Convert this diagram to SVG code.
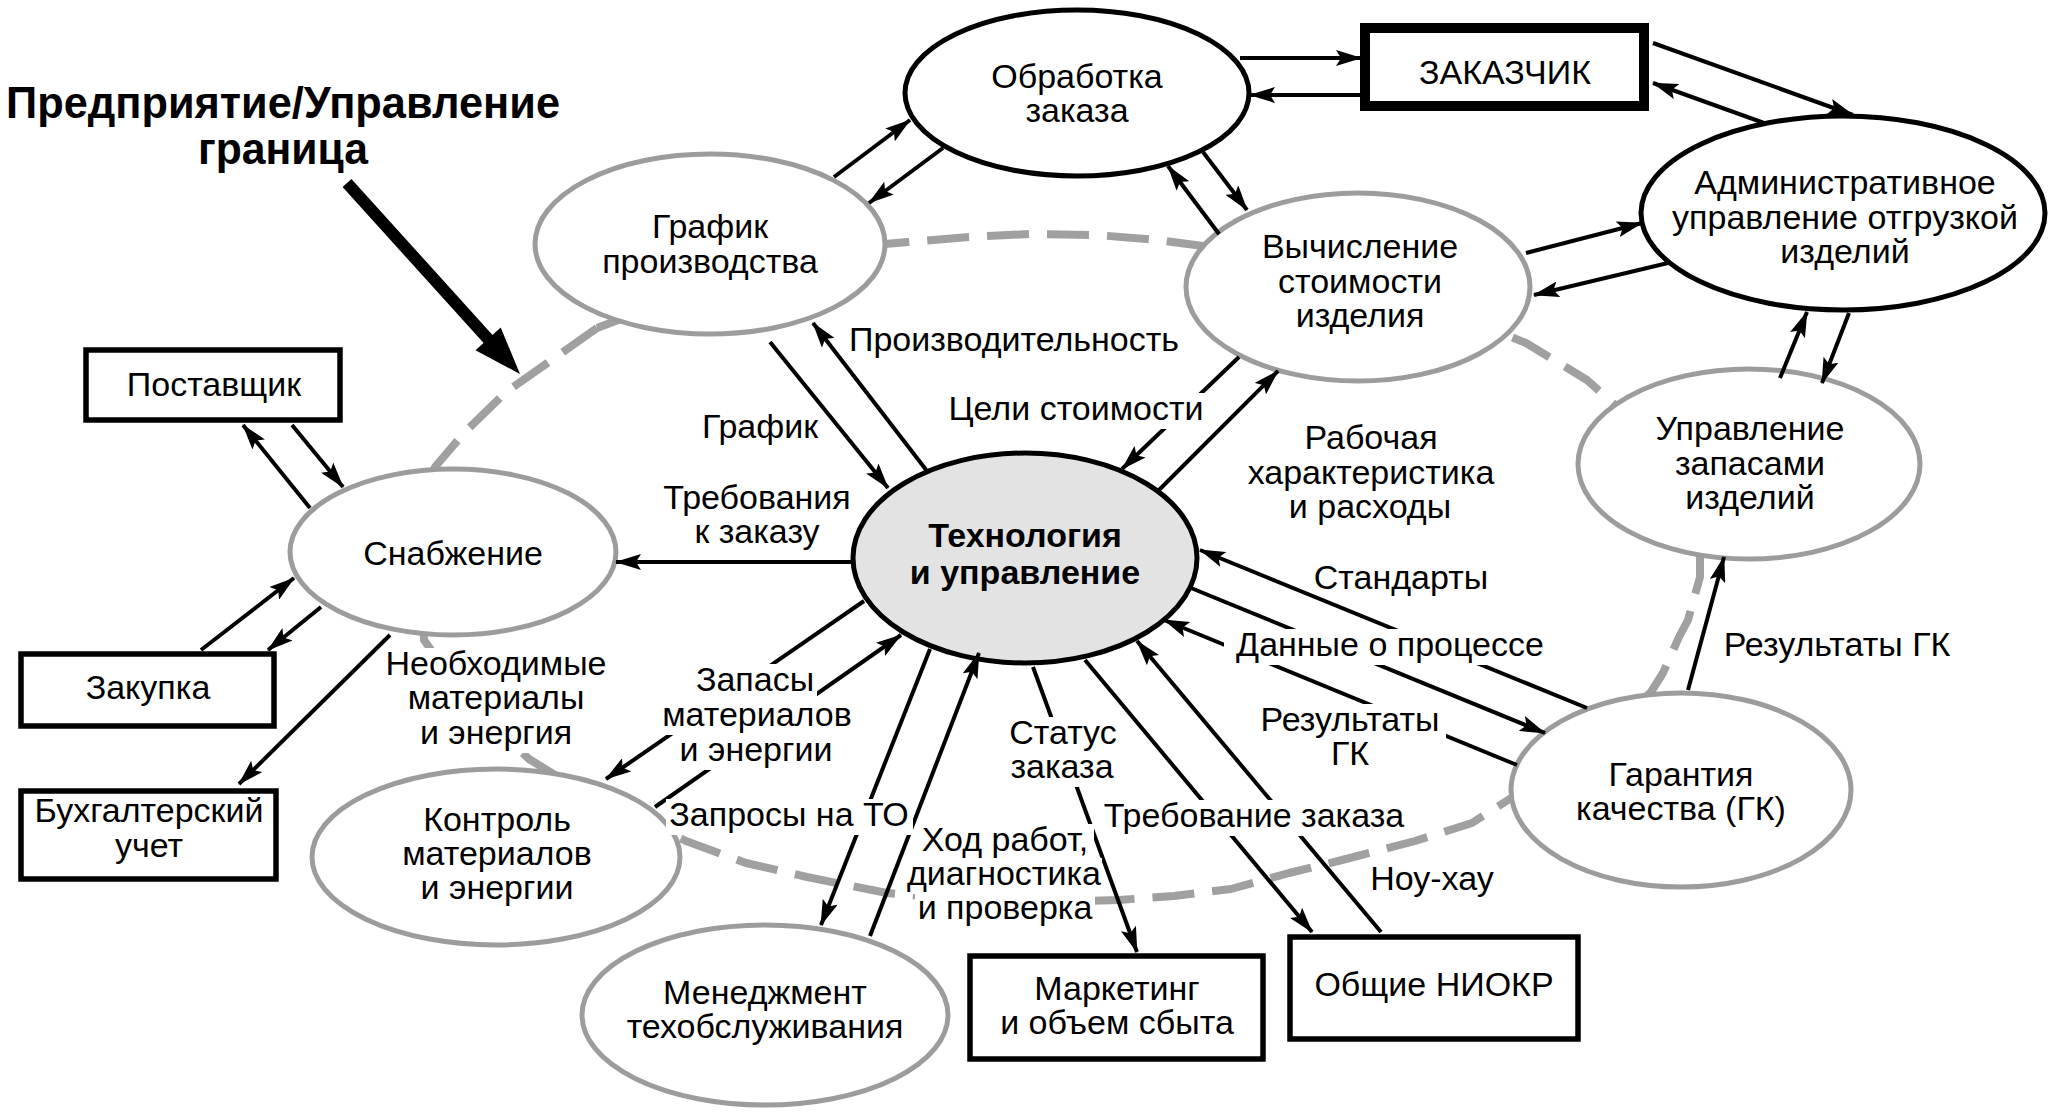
<svg xmlns="http://www.w3.org/2000/svg" width="2055" height="1115" viewBox="0 0 2055 1115">
<defs>
<marker id="ah" markerUnits="userSpaceOnUse" viewBox="0 0 26 16" markerWidth="26" markerHeight="16" refX="25" refY="8" orient="auto"><path d="M0,0 L26,8 L0,16 L5,8 Z" fill="#000"/></marker>
<style>
text{font-family:"Liberation Sans",Arial,sans-serif;font-size:34px;fill:#000;text-anchor:middle}
.t{font-weight:bold;font-size:45px}
.b{font-weight:bold}
.eb{fill:#fff;stroke:#000;stroke-width:5}
.eg{fill:#fff;stroke:#9c9c9c;stroke-width:5}
.bx{fill:#fff;stroke:#000;stroke-width:5.5}
.c line{stroke:#000;stroke-width:4;marker-end:url(#ah)}
.lb rect{fill:#fff}
</style>
</defs>
<rect width="2055" height="1115" fill="#fff"/>
<g id="boundary">
<polyline fill="none" stroke="#a0a0a0" stroke-width="8" stroke-dasharray="42 18" stroke-linejoin="round" points="597,328 556,357 506,392 464,433 435,467 420,550 424,640 470,705 529,759 560,778 686,841 746,863 807,877 887,893 1000,903 1119,900 1174,896 1231,889 1289,873 1346,859 1415,841 1472,823 1508,800 1600,740 1651,692 1663,673 1679,637 1688,620 1700,577 1700,557 1680,470 1615,405 1587,380 1526,343 1420,300 1203,246 1158,240 1096,235 1030,234 969,237 908,242 885,244 750,270 597,328"/>
</g>
<g id="title">
<text class="t" x="283" y="118" textLength="554" lengthAdjust="spacingAndGlyphs">Предприятие/Управление</text>
<text class="t" x="283" y="164" textLength="170" lengthAdjust="spacingAndGlyphs">граница</text>
<line x1="347" y1="183" x2="489" y2="340" stroke="#000" stroke-width="12"/>
<polygon points="520,374 475.5,350.3 500.7,327.5" fill="#000"/>
</g>
<g id="n-obrabotka"><ellipse class="eb" cx="1077" cy="93" rx="172" ry="83"/><text x="1077" y="88">Обработка</text><text x="1077" y="122">заказа</text></g>
<g id="n-zakazchik"><rect x="1365" y="28" width="279" height="78" fill="#fff" stroke="#000" stroke-width="10"/><text x="1505" y="84">ЗАКАЗЧИК</text></g>
<g id="n-admin"><ellipse class="eb" cx="1843" cy="213" rx="202" ry="97"/><text x="1845" y="194">Административное</text><text x="1845" y="229">управление отгрузкой</text><text x="1845" y="263">изделий</text></g>
<g id="n-grafik"><ellipse class="eg" cx="710" cy="244" rx="175" ry="90"/><text x="710" y="238">График</text><text x="710" y="273">производства</text></g>
<g id="n-vychislenie"><ellipse class="eg" cx="1358" cy="287" rx="172" ry="94"/><text x="1360" y="258">Вычисление</text><text x="1360" y="293">стоимости</text><text x="1360" y="327">изделия</text></g>
<g id="n-zapasy"><ellipse class="eg" cx="1749" cy="464" rx="171" ry="95"/><text x="1750" y="440">Управление</text><text x="1750" y="475">запасами</text><text x="1750" y="509">изделий</text></g>
<g id="n-postavshik"><rect class="bx" x="86" y="350" width="254" height="70"/><text x="214" y="396">Поставщик</text></g>
<g id="n-snabzhenie"><ellipse class="eg" cx="453" cy="552" rx="163" ry="83"/><text x="453" y="565">Снабжение</text></g>
<g id="n-tekhnologia"><ellipse cx="1025" cy="558" rx="172" ry="105" fill="#e3e3e3" stroke="#000" stroke-width="5"/><text class="b" x="1025" y="547">Технология</text><text class="b" x="1025" y="584">и управление</text></g>
<g id="n-zakupka"><rect class="bx" x="21" y="654" width="253" height="72"/><text x="148" y="699">Закупка</text></g>
<g id="n-bukh"><rect class="bx" x="21" y="791" width="255" height="88"/><text x="149" y="822">Бухгалтерский</text><text x="149" y="857">учет</text></g>
<g id="n-kontrol"><ellipse class="eg" cx="496" cy="857" rx="184" ry="88"/><text x="497" y="831">Контроль</text><text x="497" y="865">материалов</text><text x="497" y="899">и энергии</text></g>
<g id="n-menedzhment"><ellipse class="eg" cx="765" cy="1015" rx="183" ry="90"/><text x="765" y="1004">Менеджмент</text><text x="765" y="1038">техобслуживания</text></g>
<g id="n-marketing"><rect class="bx" x="970" y="956" width="293" height="103"/><text x="1117" y="1000">Маркетинг</text><text x="1117" y="1034">и объем сбыта</text></g>
<g id="n-niokr"><rect class="bx" x="1290" y="937" width="288" height="102"/><text x="1434" y="996">Общие НИОКР</text></g>
<g id="n-garantia"><ellipse class="eg" cx="1681" cy="790" rx="170" ry="97"/><text x="1681" y="786">Гарантия</text><text x="1681" y="820">качества (ГК)</text></g>
<g id="connectors" class="c">
<line x1="1240" y1="58" x2="1361" y2="58"/>
<line x1="1361" y1="95" x2="1250" y2="95"/>
<line x1="1653" y1="43" x2="1853" y2="115"/>
<line x1="1764" y1="123" x2="1653" y2="83"/>
<line x1="834" y1="177" x2="910" y2="120"/>
<line x1="943" y1="148" x2="869" y2="203"/>
<line x1="1203" y1="152" x2="1247" y2="210"/>
<line x1="1219" y1="234" x2="1168" y2="166"/>
<line x1="1526" y1="253" x2="1642" y2="223"/>
<line x1="1668" y1="263" x2="1534" y2="295"/>
<line x1="1780" y1="378" x2="1807" y2="312"/>
<line x1="1849" y1="313" x2="1822" y2="383"/>
<line x1="1688" y1="690" x2="1724" y2="557"/>
<line x1="310" y1="508" x2="243" y2="425"/>
<line x1="292" y1="425" x2="343" y2="487"/>
<line x1="201" y1="650" x2="294" y2="578"/>
<line x1="321" y1="607" x2="268" y2="650"/>
<line x1="390" y1="635" x2="239" y2="784"/>
<line x1="855" y1="562" x2="616" y2="562"/>
<line x1="770" y1="342" x2="888" y2="488"/>
<line x1="927" y1="471" x2="813" y2="323"/>
<line x1="1239" y1="357" x2="1122" y2="469"/>
<line x1="1158" y1="491" x2="1278" y2="371"/>
<line x1="1587" y1="708" x2="1200" y2="550"/>
<line x1="1191" y1="588" x2="1545" y2="733"/>
<line x1="1517" y1="765" x2="1164" y2="620"/>
<line x1="864" y1="601" x2="606" y2="779"/>
<line x1="655" y1="807" x2="901" y2="635"/>
<line x1="930" y1="649" x2="821" y2="925"/>
<line x1="870" y1="936" x2="979" y2="653"/>
<line x1="1033" y1="667" x2="1137" y2="952"/>
<line x1="1085" y1="660" x2="1312" y2="932"/>
<line x1="1381" y1="932" x2="1137" y2="641"/>
</g>
<g id="labels" class="lb">
<text x="1014" y="351">Производительность</text>
<text x="760" y="438">График</text>
<rect x="945" y="393" width="263" height="36"/><text x="1076" y="420">Цели стоимости</text>
<text x="1371" y="449">Рабочая</text><text x="1371" y="484">характеристика</text><text x="1370" y="518">и расходы</text>
<text x="757" y="509">Требования</text><text x="757" y="543">к заказу</text>
<text x="1401" y="589">Стандарты</text>
<rect x="1224" y="629" width="331" height="36"/><text x="1390" y="656">Данные о процессе</text>
<rect x="1254" y="704" width="192" height="36"/><text x="1350" y="731">Результаты</text>
<rect x="1328" y="738" width="44" height="36"/><text x="1350" y="765">ГК</text>
<text x="1837" y="656">Результаты ГК</text>
<rect x="381" y="648" width="230" height="36"/><text x="496" y="675">Необходимые</text>
<rect x="404" y="682" width="184" height="36"/><text x="496" y="709">материалы</text>
<rect x="417" y="717" width="158" height="36"/><text x="496" y="744">и энергия</text>
<rect x="693" y="664" width="124" height="36"/><text x="755" y="691">Запасы</text>
<rect x="659" y="699" width="196" height="36"/><text x="757" y="726">материалов</text>
<rect x="676" y="734" width="160" height="36"/><text x="756" y="761">и энергии</text>
<rect x="666" y="799" width="247" height="36"/><text x="789" y="826">Запросы на ТО</text>
<rect x="1006" y="717" width="115" height="36"/><text x="1063" y="744">Статус</text>
<rect x="1008" y="751" width="109" height="36"/><text x="1062" y="778">заказа</text>
<rect x="916" y="824" width="178" height="36"/><text x="1005" y="851">Ход работ,</text>
<rect x="906" y="858" width="196" height="36"/><text x="1004" y="885">диагностика</text>
<rect x="915" y="892" width="180" height="36"/><text x="1005" y="919">и проверка</text>
<rect x="1100" y="800" width="309" height="36"/><text x="1254" y="827">Требование заказа</text>
<text x="1432" y="890">Ноу-хау</text>
</g>
</svg>
